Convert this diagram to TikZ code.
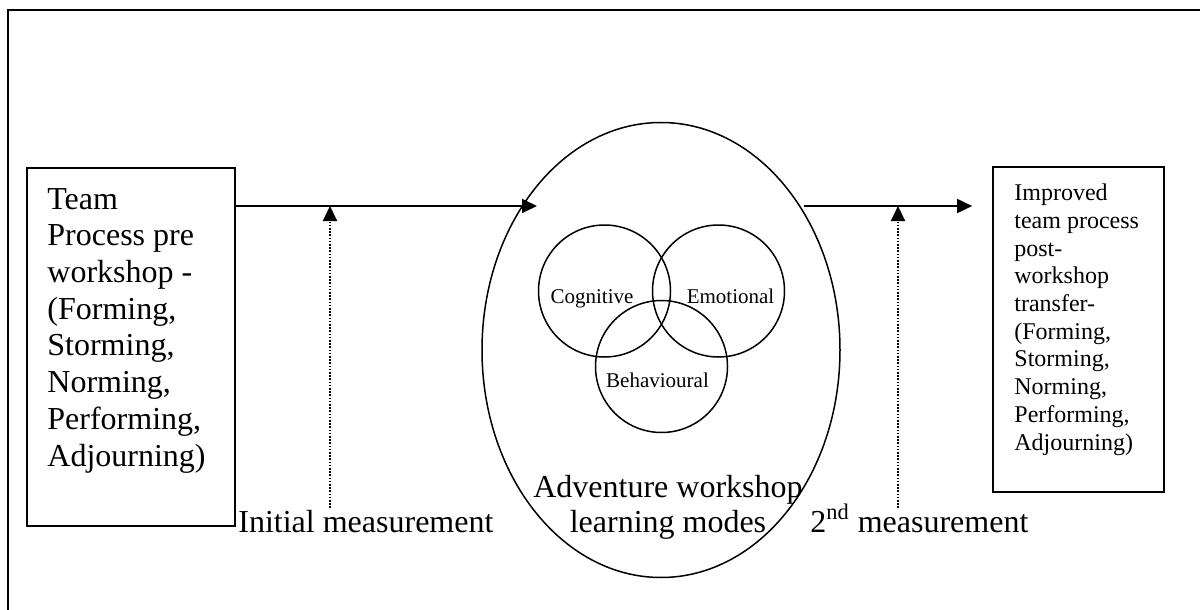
\documentclass[tikz,border=0pt]{standalone}
\usepackage{fontspec}
\setmainfont{Liberation Serif}
\usetikzlibrary{arrows.meta,shapes.geometric}

\tikzset{
  stagebox/.style={draw,line width=0.85pt,inner sep=0pt},
  stagetext/.style={anchor=base west,align=left,inner sep=0pt},
  mode/.style={draw,circle,line width=0.75pt,inner sep=0pt,minimum size=66pt},
  modename/.style={anchor=base,inner sep=0pt,font=\fontsize{10.5}{12}\selectfont},
  flow/.style={->,line width=0.9pt},
  measure/.style={->,line width=0.9pt,dash pattern=on 0.8pt off 0.8pt},
}

\begin{document}
\begin{tikzpicture}[x=0.5pt,y=-0.5pt,>={Triangle[length=7.5pt,width=7pt]},
  big/.style={font=\fontsize{16}{18.35}\selectfont}]
\useasboundingbox (0,0) rectangle (1200,610);
\clip (0,0) rectangle (1200,610);
% outer frame, runs off the page on the right and bottom
\draw[line width=1pt] (8,10) rectangle (1240,650);

% stage before the workshop (multi-line text sits on its last baseline)
\node[stagebox,minimum width=104pt,minimum height=179pt] (pre) at (131,347) {};
\node[stagetext,big] (pretext) at (47,466) {Team\\Process pre\\workshop -\\(Forming,\\Storming,\\Norming,\\Performing,\\Adjourning)};

% workshop with its three learning modes
\node[draw,ellipse,line width=0.75pt,inner sep=0pt,minimum width=179pt,minimum height=227.5pt] (modes) at (661,350) {};
\node[mode] (cog) at (604.5,291) {};
\node[mode] (emo) at (718.5,291) {};
\node[mode] (beh) at (661.5,366.5) {};
\node[modename] (cogname) at (592,303) {Cognitive};
\node[modename] (emoname) at (730.5,303) {Emotional};
\node[modename] (behname) at (657.5,387) {Behavioural};
\node[anchor=base,align=center,inner sep=0pt,font=\fontsize{16}{17.5}\selectfont] (modesname) at (668,532) {Adventure workshop\\learning modes};

% stage after the workshop
\node[stagebox,minimum width=85.5pt,minimum height=162.5pt] (post) at (1078.5,329.5) {};
\node[stagetext,font=\fontsize{12}{13.85}\selectfont] (posttext) at (1014,450) {Improved\\team process\\post-\\workshop\\transfer-\\(Forming,\\Storming,\\Norming,\\Performing,\\Adjourning)};

% main flow
\coordinate (in) at (537,206);
\coordinate (out) at (804,206);
\draw[flow] (pre.east |- in) -- (in);
\draw[flow,shorten >=10pt] (out) -- (post.west |- out);

% measurement points
\node[anchor=base west,inner sep=0pt,big] (first) at (238,532) {Initial measurement};
\node[anchor=base west,inner sep=0pt,big] (second) at (810,532) {2\textsuperscript{nd} measurement};
\coordinate (m1) at (330,508);
\coordinate (m2) at (898,508);
\draw[measure] (m1) -- (m1 |- in);
\draw[measure] (m2) -- (m2 |- out);
\end{tikzpicture}
\end{document}
